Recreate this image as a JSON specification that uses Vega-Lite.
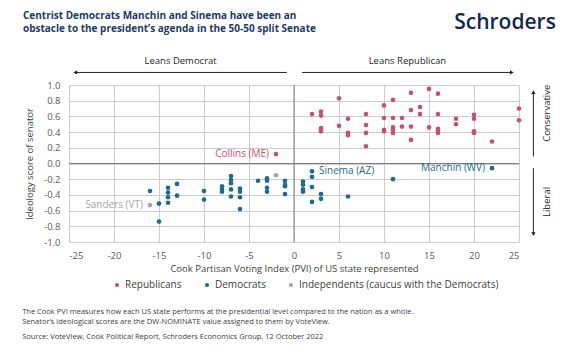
{
  "$schema": "https://vega.github.io/schema/vega-lite/v6.json",
  "width": 450,
  "height": 157,
  "autosize": {"type": "none"},
  "padding": {"left": 69, "top": 85, "right": 64, "bottom": 109},
  "background": "white",
  "title": {
    "text": ["Centrist Democrats Manchin and Sinema have been an", "obstacle to the president’s agenda in the 50-50 split Senate"],
    "anchor": "start",
    "frame": "group",
    "dx": -46,
    "offset": -22,
    "font": "Open Sans",
    "fontSize": 10,
    "fontWeight": "bold",
    "color": "#233a64",
    "lineHeight": 13
  },
  "config": {
    "view": {"stroke": null},
    "font": "Open Sans",
    "axis": {
      "gridColor": "#cccccc",
      "gridWidth": 1,
      "labelFont": "Open Sans",
      "labelFontSize": 9.5,
      "labelColor": "#595959",
      "titleFont": "Open Sans",
      "titleFontSize": 9.5,
      "titleFontWeight": "normal",
      "titleColor": "#404040"
    },
    "legend": {
      "labelFont": "Open Sans",
      "labelFontSize": 10,
      "labelColor": "#404040",
      "labelLimit": 400
    }
  },
  "resolve": {"axis": {"x": "independent", "y": "independent"}},
  "datasets": {
    "senators": [
      {"pvi": -2, "score": 0.12, "party": "Republicans", "name": "Collins (ME)"},
      {"pvi": 2, "score": 0.63, "party": "Republicans"},
      {"pvi": 3, "score": 0.66, "party": "Republicans"},
      {"pvi": 3, "score": 0.61, "party": "Republicans"},
      {"pvi": 3, "score": 0.45, "party": "Republicans"},
      {"pvi": 3, "score": 0.41, "party": "Republicans"},
      {"pvi": 5, "score": 0.83, "party": "Republicans"},
      {"pvi": 5, "score": 0.48, "party": "Republicans"},
      {"pvi": 6, "score": 0.57, "party": "Republicans"},
      {"pvi": 6, "score": 0.39, "party": "Republicans"},
      {"pvi": 6, "score": 0.36, "party": "Republicans"},
      {"pvi": 8, "score": 0.63, "party": "Republicans"},
      {"pvi": 8, "score": 0.49, "party": "Republicans"},
      {"pvi": 8, "score": 0.39, "party": "Republicans"},
      {"pvi": 8, "score": 0.22, "party": "Republicans"},
      {"pvi": 10, "score": 0.74, "party": "Republicans"},
      {"pvi": 10, "score": 0.58, "party": "Republicans"},
      {"pvi": 10, "score": 0.43, "party": "Republicans"},
      {"pvi": 10, "score": 0.41, "party": "Republicans"},
      {"pvi": 11, "score": 0.81, "party": "Republicans"},
      {"pvi": 11, "score": 0.58, "party": "Republicans"},
      {"pvi": 11, "score": 0.46, "party": "Republicans"},
      {"pvi": 11, "score": 0.43, "party": "Republicans"},
      {"pvi": 11, "score": 0.39, "party": "Republicans"},
      {"pvi": 12, "score": 0.58, "party": "Republicans"},
      {"pvi": 12, "score": 0.47, "party": "Republicans"},
      {"pvi": 13, "score": 0.90, "party": "Republicans"},
      {"pvi": 13, "score": 0.68, "party": "Republicans"},
      {"pvi": 13, "score": 0.47, "party": "Republicans"},
      {"pvi": 13, "score": 0.30, "party": "Republicans"},
      {"pvi": 14, "score": 0.72, "party": "Republicans"},
      {"pvi": 14, "score": 0.63, "party": "Republicans"},
      {"pvi": 15, "score": 0.95, "party": "Republicans"},
      {"pvi": 15, "score": 0.46, "party": "Republicans"},
      {"pvi": 16, "score": 0.89, "party": "Republicans"},
      {"pvi": 16, "score": 0.63, "party": "Republicans"},
      {"pvi": 16, "score": 0.44, "party": "Republicans"},
      {"pvi": 16, "score": 0.42, "party": "Republicans"},
      {"pvi": 16, "score": 0.39, "party": "Republicans"},
      {"pvi": 18, "score": 0.57, "party": "Republicans"},
      {"pvi": 18, "score": 0.50, "party": "Republicans"},
      {"pvi": 20, "score": 0.62, "party": "Republicans"},
      {"pvi": 20, "score": 0.57, "party": "Republicans"},
      {"pvi": 20, "score": 0.41, "party": "Republicans"},
      {"pvi": 20, "score": 0.39, "party": "Republicans"},
      {"pvi": 22, "score": 0.28, "party": "Republicans"},
      {"pvi": 25, "score": 0.70, "party": "Republicans"},
      {"pvi": 25, "score": 0.55, "party": "Republicans"},
      {"pvi": -16, "score": -0.35, "party": "Democrats"},
      {"pvi": -15, "score": -0.51, "party": "Democrats"},
      {"pvi": -15, "score": -0.74, "party": "Democrats"},
      {"pvi": -14, "score": -0.31, "party": "Democrats"},
      {"pvi": -14, "score": -0.37, "party": "Democrats"},
      {"pvi": -14, "score": -0.43, "party": "Democrats"},
      {"pvi": -14, "score": -0.50, "party": "Democrats"},
      {"pvi": -13, "score": -0.26, "party": "Democrats"},
      {"pvi": -13, "score": -0.41, "party": "Democrats"},
      {"pvi": -10, "score": -0.35, "party": "Democrats"},
      {"pvi": -10, "score": -0.46, "party": "Democrats"},
      {"pvi": -8, "score": -0.29, "party": "Democrats"},
      {"pvi": -8, "score": -0.33, "party": "Democrats"},
      {"pvi": -8, "score": -0.36, "party": "Democrats"},
      {"pvi": -7, "score": -0.16, "party": "Democrats"},
      {"pvi": -7, "score": -0.21, "party": "Democrats"},
      {"pvi": -7, "score": -0.25, "party": "Democrats"},
      {"pvi": -7, "score": -0.33, "party": "Democrats"},
      {"pvi": -7, "score": -0.42, "party": "Democrats"},
      {"pvi": -6, "score": -0.32, "party": "Democrats"},
      {"pvi": -6, "score": -0.36, "party": "Democrats"},
      {"pvi": -6, "score": -0.43, "party": "Democrats"},
      {"pvi": -6, "score": -0.58, "party": "Democrats"},
      {"pvi": -4, "score": -0.22, "party": "Democrats"},
      {"pvi": -3, "score": -0.19, "party": "Democrats"},
      {"pvi": -3, "score": -0.22, "party": "Democrats"},
      {"pvi": -3, "score": -0.31, "party": "Democrats"},
      {"pvi": -3, "score": -0.36, "party": "Democrats"},
      {"pvi": -1, "score": -0.22, "party": "Democrats"},
      {"pvi": -1, "score": -0.27, "party": "Democrats"},
      {"pvi": -1, "score": -0.29, "party": "Democrats"},
      {"pvi": -1, "score": -0.39, "party": "Democrats"},
      {"pvi": 2, "score": -0.10, "party": "Democrats", "name": "Sinema (AZ)"},
      {"pvi": 2, "score": -0.17, "party": "Democrats"},
      {"pvi": 1, "score": -0.23, "party": "Democrats"},
      {"pvi": 1, "score": -0.27, "party": "Democrats"},
      {"pvi": 1, "score": -0.33, "party": "Democrats"},
      {"pvi": 1, "score": -0.36, "party": "Democrats"},
      {"pvi": 2, "score": -0.30, "party": "Democrats"},
      {"pvi": 2, "score": -0.49, "party": "Democrats"},
      {"pvi": 3, "score": -0.39, "party": "Democrats"},
      {"pvi": 3, "score": -0.45, "party": "Democrats"},
      {"pvi": 6, "score": -0.42, "party": "Democrats"},
      {"pvi": 11, "score": -0.20, "party": "Democrats"},
      {"pvi": 22, "score": -0.06, "party": "Democrats", "name": "Manchin (WV)"},
      {"pvi": -16, "score": -0.53, "party": "Independents (caucus with the Democrats)", "name": "Sanders (VT)"},
      {"pvi": -2, "score": -0.15, "party": "Independents (caucus with the Democrats)"}
    ],
    "one": [{}]
  },
  "data": {"name": "one"},
  "layer": [
    {
      "data": {"name": "senators"},
      "mark": {"type": "circle", "size": 22, "opacity": 1},
      "encoding": {
        "x": {
          "field": "pvi",
          "type": "quantitative",
          "scale": {"domain": [-25, 25], "nice": false},
          "axis": {
            "grid": true,
            "domain": false,
            "ticks": false,
            "labelOverlap": false,
            "values": [-25, -20, -15, -10, -5, 0, 5, 10, 15, 20, 25],
            "labelExpr": "datum.value < 0 ? '-' + format(-datum.value, 'd') : format(datum.value, 'd')",
            "labelPadding": 8,
            "titlePadding": 4
          },
          "title": "Cook Partisan Voting Index (PVI) of US state represented"
        },
        "y": {
          "field": "score",
          "type": "quantitative",
          "scale": {"domain": [-1, 1], "nice": false},
          "axis": {
            "grid": true,
            "domain": false,
            "ticks": false,
            "labelOverlap": false,
            "values": [-1, -0.8, -0.6, -0.4, -0.2, 0, 0.2, 0.4, 0.6, 0.8, 1],
            "labelExpr": "datum.value < -0.0001 ? '-' + format(-datum.value, '.1f') : format(abs(datum.value), '.1f')",
            "labelPadding": 9,
            "titlePadding": 9
          },
          "title": "Ideology score of senator"
        },
        "color": {
          "field": "party",
          "type": "nominal",
          "scale": {
            "domain": ["Republicans", "Democrats", "Independents (caucus with the Democrats)"],
            "range": ["#c4516d", "#1c6c8f", "#a6a6a6"]
          },
          "legend": {
            "title": null,
            "orient": "none",
            "direction": "horizontal",
            "legendX": 43,
            "legendY": 195,
            "padding": 0,
            "symbolType": "circle",
            "symbolSize": 18,
            "labelOffset": 3,
            "columnPadding": 20
          }
        }
      }
    },
    {
      "mark": {"type": "rule", "color": "#7f7f7f", "strokeWidth": 1},
      "encoding": {"x": {"datum": 0, "type": "quantitative", "axis": null}}
    },
    {
      "mark": {"type": "rule", "color": "#7f7f7f", "strokeWidth": 1},
      "encoding": {"y": {"datum": 0, "type": "quantitative", "axis": null}}
    },
    {
      "data": {"name": "senators"},
      "transform": [{"filter": "datum.name && datum.name != 'Sinema (AZ)'"}],
      "mark": {"type": "text", "align": "right", "baseline": "middle", "dx": -7, "fontSize": 10, "font": "Open Sans"},
      "encoding": {
        "x": {"field": "pvi", "type": "quantitative", "axis": null},
        "y": {"field": "score", "type": "quantitative", "axis": null},
        "text": {"field": "name"},
        "color": {"field": "party", "type": "nominal"}
      }
    },
    {
      "data": {"name": "senators"},
      "transform": [{"filter": "datum.name == 'Sinema (AZ)'"}],
      "mark": {"type": "text", "align": "left", "baseline": "middle", "dx": 7, "fontSize": 10, "font": "Open Sans"},
      "encoding": {
        "x": {"field": "pvi", "type": "quantitative", "axis": null},
        "y": {"field": "score", "type": "quantitative", "axis": null},
        "text": {"field": "name"},
        "color": {"field": "party", "type": "nominal"}
      }
    },
    {
      "mark": {"type": "text", "text": "Leans Democrat", "fontSize": 9.5, "color": "#262626", "baseline": "middle"},
      "encoding": {"x": {"datum": -12.6, "axis": null}, "y": {"datum": 1.31, "axis": null}}
    },
    {
      "mark": {"type": "text", "text": "Leans Republican", "fontSize": 9.5, "color": "#262626", "baseline": "middle"},
      "encoding": {"x": {"datum": 12.6, "axis": null}, "y": {"datum": 1.31, "axis": null}}
    },
    {
      "mark": {"type": "rule", "color": "#222222", "strokeWidth": 1},
      "encoding": {"x": {"datum": -0.8, "axis": null}, "x2": {"datum": -24.2}, "y": {"datum": 1.16, "axis": null}}
    },
    {
      "mark": {"type": "rule", "color": "#222222", "strokeWidth": 1},
      "encoding": {"x": {"datum": 0.9, "axis": null}, "x2": {"datum": 24.1}, "y": {"datum": 1.16, "axis": null}}
    },
    {
      "mark": {"type": "point", "shape": "triangle-left", "filled": true, "size": 18, "color": "#222222", "opacity": 1},
      "encoding": {"x": {"datum": -24.3, "axis": null}, "y": {"datum": 1.16, "axis": null}}
    },
    {
      "mark": {"type": "point", "shape": "triangle-right", "filled": true, "size": 18, "color": "#222222", "opacity": 1},
      "encoding": {"x": {"datum": 24.2, "axis": null}, "y": {"datum": 1.16, "axis": null}}
    },
    {
      "mark": {"type": "rule", "color": "#222222", "strokeWidth": 1},
      "encoding": {"x": {"datum": 26.6, "axis": null}, "y": {"datum": 0.09, "axis": null}, "y2": {"datum": 0.9}}
    },
    {
      "mark": {"type": "rule", "color": "#222222", "strokeWidth": 1},
      "encoding": {"x": {"datum": 26.6, "axis": null}, "y": {"datum": -0.06, "axis": null}, "y2": {"datum": -0.89}}
    },
    {
      "mark": {"type": "point", "shape": "triangle-up", "filled": true, "size": 18, "color": "#222222", "opacity": 1},
      "encoding": {"x": {"datum": 26.6, "axis": null}, "y": {"datum": 0.91, "axis": null}}
    },
    {
      "mark": {"type": "point", "shape": "triangle-down", "filled": true, "size": 18, "color": "#222222", "opacity": 1},
      "encoding": {"x": {"datum": 26.6, "axis": null}, "y": {"datum": -0.9, "axis": null}}
    },
    {
      "mark": {"type": "text", "text": "Conservative", "angle": 270, "fontSize": 9.5, "color": "#262626", "baseline": "middle", "align": "center"},
      "encoding": {"x": {"datum": 28.1, "axis": null}, "y": {"datum": 0.64, "axis": null}}
    },
    {
      "mark": {"type": "text", "text": "Liberal", "angle": 270, "fontSize": 9.5, "color": "#262626", "baseline": "middle", "align": "center"},
      "encoding": {"x": {"datum": 28.1, "axis": null}, "y": {"datum": -0.49, "axis": null}}
    },
    {
      "mark": {"type": "text", "text": "Schroders", "fontSize": 21, "fontWeight": 600, "color": "#12294f", "align": "right", "baseline": "middle"},
      "encoding": {"x": {"datum": 29.1, "axis": null}, "y": {"datum": 1.79, "axis": null}}
    },
    {
      "mark": {"type": "text", "text": "The Cook PVI measures how each US state performs at the presidential  level compared to the nation as a whole.", "fontSize": 7.5, "color": "#404040", "align": "left", "baseline": "middle"},
      "encoding": {"x": {"datum": -30.2, "axis": null}, "y": {"datum": -1.89, "axis": null}}
    },
    {
      "mark": {"type": "text", "text": "Senator’s ideological scores are the DW-NOMINATE value assigned to them by VoteView.", "fontSize": 7.5, "color": "#404040", "align": "left", "baseline": "middle"},
      "encoding": {"x": {"datum": -30.2, "axis": null}, "y": {"datum": -2.02, "axis": null}}
    },
    {
      "mark": {"type": "text", "text": "Source: VoteView, Cook Political Report, Schroders Economics Group, 12 October 2022", "fontSize": 7.5, "color": "#404040", "align": "left", "baseline": "middle"},
      "encoding": {"x": {"datum": -30.2, "axis": null}, "y": {"datum": -2.21, "axis": null}}
    }
  ]
}
